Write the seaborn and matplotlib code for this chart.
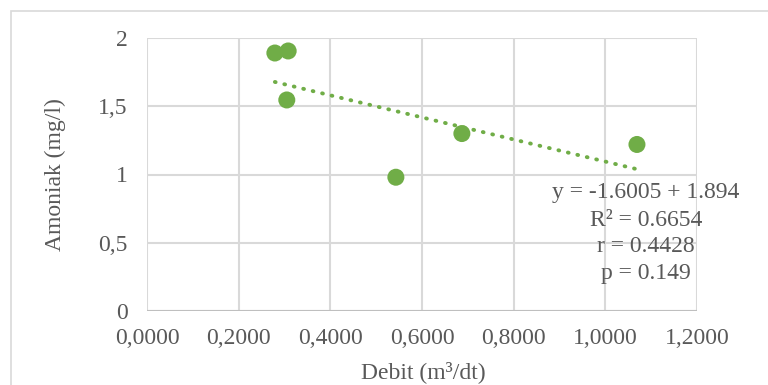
import numpy as np
import pandas as pd
import matplotlib
matplotlib.use("Agg")
import matplotlib.pyplot as plt
import seaborn as sns
from matplotlib.patches import Rectangle

debit = [0.279, 0.308, 0.305, 0.543, 0.687, 1.069]
amoniak = [1.89, 1.905, 1.546, 0.98, 1.30, 1.22]
x_ticks = [0.0, 0.2, 0.4, 0.6, 0.8, 1.0, 1.2]
x_tick_labels = ["0,0000", "0,2000", "0,4000", "0,6000", "0,8000", "1,0000", "1,2000"]
y_ticks = [0, 0.5, 1, 1.5, 2]
y_tick_labels = ["0", "0,5", "1", "1,5", "2"]
stats_lines = ["y = -1.6005 + 1.894", "R² = 0.6654", "r = 0.4428", "p = 0.149"]

sns.set_theme(style="white")
plt.rcParams["font.family"] = ["Liberation Serif", "DejaVu Serif"]

df = pd.DataFrame({"Debit": debit, "Amoniak": amoniak})
green = "#70AD47"
grey_text = "#595959"
grid_c = "#D9D9D9"
FS = 17

fig = plt.figure(figsize=(7.68, 3.85), dpi=100)
ax = fig.add_axes([147/768, 1-311/385, 550/768, 273/385])

# chart border
fig.patches.append(Rectangle((11/768, -0.2), 1.2, 1.2 - 11/385, transform=fig.transFigure,
                             fill=False, edgecolor="#D9D9D9", linewidth=1.2, zorder=0))

ax.set_xlim(0, 1.2)
ax.set_ylim(0, 2)
ax.set_xticks(x_ticks)
ax.set_xticklabels(x_tick_labels)
ax.set_yticks(y_ticks)
ax.set_yticklabels(y_tick_labels)
ax.grid(True, color=grid_c, linewidth=1.5)
ax.set_axisbelow(True)
for s in ax.spines.values():
    s.set_visible(False)
ax.axhline(0, color="#BFBFBF", linewidth=1.5, zorder=1)
ax.tick_params(axis="both", length=0, labelsize=FS, labelcolor=grey_text)
ax.tick_params(axis="x", pad=12)
ax.tick_params(axis="y", pad=14)

# trend line (least squares)
coef = np.polyfit(df["Debit"], df["Amoniak"], 1)
xs = np.array([df["Debit"].min(), df["Debit"].max()])
ax.plot(xs, np.polyval(coef, xs), color=green, linewidth=2.8,
        linestyle=(0, (0.2, 2.3)), dash_capstyle="round", zorder=2)

sns.scatterplot(data=df, x="Debit", y="Amoniak", ax=ax, color=green, s=150,
                edgecolor="none", zorder=3)

ax.set_xlabel("Debit (m³/dt)", fontsize=FS, color=grey_text)
ax.set_ylabel("Amoniak (mg/l)", fontsize=FS, color=grey_text)
ax.xaxis.label.set_va("center")
ax.yaxis.label.set_va("center")
ax.xaxis.set_label_coords((423 - 147) / 550, (311 - 372) / 273)
ax.yaxis.set_label_coords((55 - 147) / 550, 0.5)

ys = [193, 220, 247, 274]
for line, yy in zip(stats_lines, ys):
    fig.text(646/768, 1 - yy/385, line, ha="center", va="center", fontsize=FS, color=grey_text)

fig.savefig("out.png", dpi=100)
